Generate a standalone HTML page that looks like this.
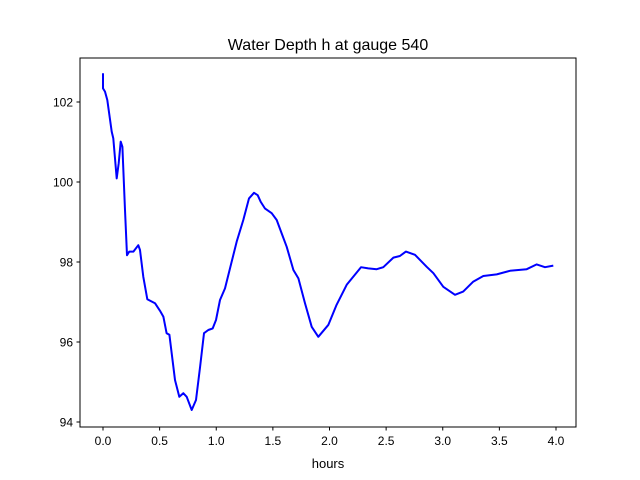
<!DOCTYPE html>
<html><head><meta charset="utf-8"><style>
body{margin:0;background:#fff}
svg{display:block;font-family:"Liberation Sans","DejaVu Sans",sans-serif}
</style></head><body>
<svg id="chart" width="640" height="480" viewBox="0 0 640 480" xmlns="http://www.w3.org/2000/svg">
<rect width="640" height="480" fill="#fff"/>
<text x="328" y="50" text-anchor="middle" font-size="16">Water Depth h at gauge 540</text>
<g id="ticks"></g>
<path id="line" fill="none" stroke="#0000ff" stroke-width="2" stroke-linejoin="round"/>
<rect x="80" y="58" width="496" height="369" fill="none" stroke="#000" stroke-width="1"/>
<text x="328" y="468" text-anchor="middle" font-size="13">hours</text>
</svg>
<script>
const hours=[0,0,0.018,0.038,0.077,0.091,0.121,0.139,0.156,0.171,0.194,0.212,0.232,0.268,0.312,0.327,0.356,0.391,0.459,0.503,0.533,0.562,0.586,0.636,0.674,0.709,0.739,0.783,0.821,0.857,0.892,0.930,0.969,0.998,1.033,1.077,1.121,1.181,1.239,1.289,1.333,1.366,1.392,1.430,1.49,1.534,1.58,1.622,1.681,1.725,1.784,1.843,1.901,1.990,2.063,2.152,2.278,2.343,2.417,2.475,2.564,2.622,2.675,2.755,2.858,2.917,3.005,3.108,3.181,3.270,3.358,3.476,3.594,3.741,3.830,3.903,3.976];
const depth=[102.72,102.34,102.26,102.05,101.26,101.09,100.09,100.47,101.01,100.88,99.3,98.17,98.26,98.26,98.42,98.3,97.63,97.07,96.97,96.78,96.63,96.22,96.18,95.05,94.63,94.72,94.63,94.3,94.55,95.38,96.22,96.3,96.34,96.55,97.05,97.34,97.84,98.51,99.05,99.59,99.73,99.67,99.51,99.34,99.22,99.05,98.7,98.38,97.8,97.59,96.97,96.38,96.13,96.43,96.93,97.43,97.87,97.84,97.82,97.87,98.11,98.15,98.26,98.18,97.88,97.72,97.38,97.18,97.26,97.51,97.65,97.69,97.78,97.82,97.94,97.87,97.91];
const xTicks=[0,0.5,1,1.5,2,2.5,3,3.5,4];
const yTicks=[94,96,98,100,102];
const X=v=>103+v*113.25, Y=v=>102-(v-102)*40;
const NS="http://www.w3.org/2000/svg";
const g=document.getElementById('ticks');
function mk(t,a){const e=document.createElementNS(NS,t);for(const k in a)e.setAttribute(k,a[k]);g.appendChild(e);return e;}
xTicks.forEach(v=>{
 const l=mk('line',{x1:X(v),x2:X(v),y1:427,y2:430.5,stroke:'#000'});
 
 
 const t=mk('text',{x:X(v),y:445,'text-anchor':'middle','font-size':'12'});
 t.textContent=v.toFixed(1);
 
 
});
yTicks.forEach(v=>{
 const l=mk('line',{x1:76.5,x2:80,y1:Y(v),y2:Y(v),stroke:'#000'});
 
 
 const t=mk('text',{x:73,y:Y(v)+4.5,'text-anchor':'end','font-size':'12'});
 t.textContent=v;
 
 
});
document.getElementById('line').setAttribute('d',hours.map((h,i)=>(i?'L':'M')+X(h).toFixed(1)+' '+Y(depth[i]).toFixed(1)).join(''));
</script>
</body></html>
